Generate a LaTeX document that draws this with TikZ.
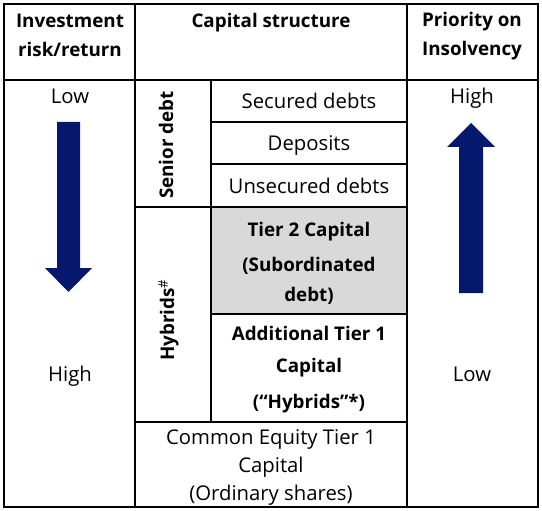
\documentclass[tikz,border=0pt]{standalone}
\usepackage{fontspec}
\setmainfont{Open Sans}
\definecolor{navy}{RGB}{6,24,110}
\definecolor{cellgray}{RGB}{217,217,217}
\begin{document}
\begin{tikzpicture}[x=1pt,y=-1pt,
  grid/.style={draw=black,line width=1.2pt},
  txt/.style={font=\fontsize{20.3}{28}\selectfont,align=center,inner sep=0pt,text height=1.6ex,text depth=.4ex},
  btxt/.style={font=\fontsize{18.8}{29}\selectfont\bfseries,align=center,inner sep=0pt,text height=1.6ex,text depth=.4ex},
  mtxt/.style={font=\fontsize{20.3}{28}\selectfont,align=center,inner sep=0pt},
  mbtxt/.style={font=\fontsize{18.8}{29}\selectfont\bfseries,align=center,inner sep=0pt},
  arrowshape/.style={fill=navy,draw=none}]
\useasboundingbox (0,0) rectangle (542,511);
% gray cell
\fill[cellgray] (211,207) rectangle (407,314);
% grid
\draw[grid] (4,4) rectangle (538,507);
\draw[grid] (4,80) -- (538,80);
\draw[grid] (135,4) -- (135,507);
\draw[grid] (407,4) -- (407,507);
\draw[grid] (211,80) -- (211,422);
\draw[grid] (211,122) -- (407,122);
\draw[grid] (211,164) -- (407,164);
\draw[grid] (135,207) -- (407,207);
\draw[grid] (211,314) -- (407,314);
\draw[grid] (135,422) -- (407,422);
% headers
\node[mbtxt] (h1) at (70,35) {Investment\\risk/return};
\node[btxt] (h2) at (271,24) {Capital structure};
\node[mbtxt] (h3) at (472,36.5) {Priority on\\Insolvency};
% left column
\node[txt] (llow) at (70,100) {Low};
\node[txt] (lhigh) at (70,378) {High};
\fill[arrowshape] (57,122) -- (80,122) -- (80,268) -- (92,268) -- (68.5,292) -- (45,268) -- (57,268) -- cycle;
% right column
\node[txt] (rhigh) at (472,100) {High};
\node[txt] (rlow) at (472,378) {Low};
\fill[arrowshape] (459,293) -- (483,293) -- (483,147) -- (495,147) -- (471,123) -- (447,147) -- (459,147) -- cycle;
% rotated labels
\node[btxt,rotate=90] (senior) at (170,145) {Senior debt};
\node[btxt,rotate=90] (hyb) at (171,320) {Hybrids$^{\#}$};
% cells
\node[txt] (sec) at (309,105) {Secured debts};
\node[txt] (dep) at (309,147) {Deposits};
\node[txt] (uns) at (309,190) {Unsecured debts};
\node[mbtxt,font=\fontsize{18.8}{30}\selectfont\bfseries] (t2) at (309,263.5) {Tier 2 Capital\\[5pt](Subordinated\\debt)};
\node[mbtxt,font=\fontsize{18.8}{32}\selectfont\bfseries] (at1) at (309,370) {Additional Tier 1\\Capital\\[4pt](“Hybrids”*)};
\node[mtxt] (cet) at (271,467.5) {Common Equity Tier 1\\Capital\\(Ordinary shares)};
\end{tikzpicture}
\end{document}
